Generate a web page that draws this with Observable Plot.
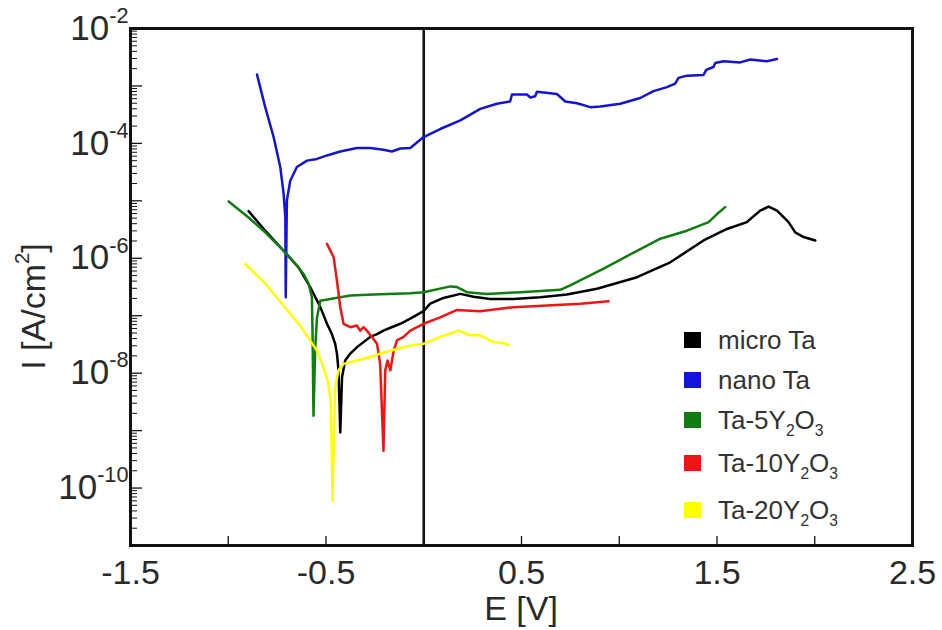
<!DOCTYPE html>
<html><head><meta charset="utf-8">
<script src="https://cdn.jsdelivr.net/npm/d3@7"></script>
<script src="https://cdn.jsdelivr.net/npm/@observablehq/plot@0.6"></script>
<style>body{margin:0;background:#fff}#chart{width:942px;height:630px}</style>
</head><body><div id="chart"></div>
<script>
// ---- data ----
const seriesNames = ["micro Ta", "nano Ta", "Ta-5Y2O3", "Ta-10Y2O3", "Ta-20Y2O3"];
const seriesColors = ["#000000", "#1414d8", "#0f7d0f", "#f01414", "#ffff00"];

const microTaE = [-0.896,-0.811,-0.725,-0.640,-0.581,-0.529,-0.495,-0.470,-0.453,-0.444,-0.436,-0.427,-0.418,-0.402,-0.376,-0.342,-0.308,-0.274,-0.239,-0.206,-0.171,-0.120,-0.069,-0.001,0.033,0.101,0.187,0.255,0.340,0.459,0.596,0.732,0.886,1.091,1.261,1.431,1.551,1.653,1.721,1.764,1.807,1.866,1.900,1.943,2.003];
const microTaI = [6.61e-6,3.02e-6,1.45e-6,6.92e-7,3.16e-7,1.41e-7,7.24e-8,4.79e-8,3.24e-8,2.19e-8,1.12e-8,9.33e-10,8.51e-9,1.66e-8,2.19e-8,2.82e-8,3.47e-8,4.27e-8,4.79e-8,5.50e-8,6.17e-8,7.24e-8,8.91e-8,1.20e-7,1.62e-7,2.04e-7,2.40e-7,2.14e-7,1.95e-7,1.95e-7,2.09e-7,2.34e-7,2.95e-7,4.68e-7,8.51e-7,2.04e-6,3.24e-6,4.27e-6,6.76e-6,7.94e-6,6.76e-6,4.27e-6,2.82e-6,2.34e-6,2.04e-6];

const nanoTaE = [-0.853,-0.811,-0.768,-0.734,-0.717,-0.708,-0.706,-0.700,-0.683,-0.649,-0.597,-0.546,-0.495,-0.427,-0.342,-0.274,-0.206,-0.163,-0.120,-0.069,-0.001,0.084,0.187,0.289,0.374,0.442,0.451,0.528,0.545,0.570,0.579,0.681,0.724,0.784,0.852,0.903,1.005,1.107,1.175,1.244,1.286,1.303,1.346,1.431,1.445,1.482,1.491,1.533,1.619,1.670,1.755,1.807];
const nanoTaI = [1.58e-3,4.27e-4,1.29e-4,3.89e-5,1.35e-5,5.13e-6,2.09e-7,1.02e-5,2.24e-5,3.89e-5,5.01e-5,5.37e-5,6.17e-5,7.24e-5,8.32e-5,8.32e-5,7.76e-5,7.24e-5,8.13e-5,8.32e-5,1.29e-4,1.78e-4,2.51e-4,3.98e-4,4.90e-4,5.37e-4,7.08e-4,7.08e-4,6.31e-4,6.61e-4,7.94e-4,7.24e-4,5.37e-4,5.01e-4,4.27e-4,4.37e-4,4.90e-4,6.17e-4,8.13e-4,9.55e-4,1.10e-3,1.38e-3,1.51e-3,1.55e-3,1.91e-3,2.14e-3,2.51e-3,2.69e-3,2.57e-3,2.88e-3,2.69e-3,2.95e-3];

const ta5E = [-0.998,-0.896,-0.811,-0.725,-0.657,-0.615,-0.589,-0.572,-0.569,-0.567,-0.564,-0.555,-0.546,-0.529,-0.478,-0.376,-0.257,-0.069,-0.001,0.136,0.170,0.221,0.323,0.494,0.698,0.749,0.920,1.091,1.210,1.346,1.457,1.500,1.542];
const ta5I = [9.77e-6,5.13e-6,2.82e-6,1.45e-6,7.94e-7,5.37e-7,3.63e-7,2.09e-7,5.50e-8,1.45e-8,1.82e-9,2.82e-8,9.33e-8,1.82e-7,1.95e-7,2.24e-7,2.34e-7,2.45e-7,2.57e-7,3.24e-7,3.16e-7,2.57e-7,2.40e-7,2.57e-7,2.82e-7,3.39e-7,6.61e-7,1.35e-6,2.19e-6,3.02e-6,4.27e-6,5.89e-6,7.76e-6];

const ta10E = [-0.495,-0.461,-0.444,-0.427,-0.410,-0.376,-0.342,-0.325,-0.308,-0.291,-0.265,-0.239,-0.223,-0.206,-0.197,-0.185,-0.171,-0.154,-0.137,-0.103,-0.069,-0.001,0.084,0.170,0.289,0.459,0.630,0.801,0.945];
const ta10I = [1.78e-6,1.05e-6,4.07e-7,1.41e-7,7.24e-8,6.31e-8,6.76e-8,5.50e-8,6.31e-8,5.50e-8,4.27e-8,3.24e-8,1.45e-8,4.47e-10,1.12e-8,1.66e-8,1.12e-8,2.45e-8,3.72e-8,4.27e-8,5.50e-8,7.24e-8,9.33e-8,1.26e-7,1.20e-7,1.41e-7,1.51e-7,1.62e-7,1.78e-7];

const ta20E = [-0.913,-0.811,-0.725,-0.640,-0.615,-0.546,-0.513,-0.487,-0.475,-0.466,-0.453,-0.436,-0.410,-0.342,-0.274,-0.206,-0.137,-0.069,-0.001,0.084,0.178,0.238,0.289,0.357,0.408,0.434];
const ta20I = [7.94e-7,3.63e-7,1.62e-7,7.24e-8,5.50e-8,2.45e-8,1.26e-8,6.46e-9,2.95e-9,6.03e-11,5.75e-9,1.12e-8,1.45e-8,1.66e-8,1.91e-8,2.29e-8,2.63e-8,3.02e-8,3.24e-8,4.27e-8,5.50e-8,4.57e-8,4.57e-8,3.47e-8,3.31e-8,3.09e-8];

const xTickLabels = [-1.5, -0.5, 0.5, 1.5, 2.5];
const xTickMarks = [-1, -0.5, 0, 0.5, 1, 1.5, 2];
const yTickLabels = [1e-2, 1e-4, 1e-6, 1e-8, 1e-10];
const yMajorTicks = [1e-2, 1e-3, 1e-4, 1e-5, 1e-6, 1e-7, 1e-8, 1e-9, 1e-10, 1e-11];

// ---- build table ----
const seriesE = [microTaE, nanoTaE, ta5E, ta10E, ta20E];
const seriesI = [microTaI, nanoTaI, ta5I, ta10I, ta20I];
const rows = [];
seriesNames.forEach((name, s) => seriesE[s].forEach((e, i) => rows.push({series: name, E: e, I: seriesI[s][i]})));

const W = 942, H = 630, mL = 130, mR = 30, mT = 28, mB = 85;
const plotW = W - mL - mR, plotH = H - mT - mB;
const yMinorTicks = d3.scaleLog().domain([1e-11, 1e-2]).ticks().filter(t => !yMajorTicks.some(m => Math.abs(t / m - 1) < 1e-6));
const font = "'Liberation Sans', Arial, sans-serif";
const textColor = "#2a2a2a";

const chart = Plot.plot({
  width: W, height: H,
  marginLeft: mL, marginRight: mR, marginTop: mT, marginBottom: mB,
  style: {fontFamily: font, background: "#fff", color: textColor},
  x: {domain: [-1.5, 2.5], label: null},
  y: {type: "log", domain: [1e-11, 1e-2], label: null},
  marks: [
    Plot.ruleX([0], {stroke: "#111", strokeWidth: 2.6}),
    ...seriesNames.map((name, s) => Plot.line(rows.filter(r => r.series === name), {x: "E", y: "I", stroke: seriesColors[s], strokeWidth: 2.5, strokeLinejoin: "round"})),
    Plot.ruleX(xTickMarks, {stroke: "#111", strokeWidth: 1.3, insetTop: plotH - 9}),
    Plot.ruleY(yMajorTicks, {stroke: "#111", strokeWidth: 1.3, insetRight: plotW - 12}),
    Plot.ruleY(yMinorTicks, {stroke: "#111", strokeWidth: 1, insetRight: plotW - 7}),
    Plot.frame({stroke: "#111", strokeWidth: 3}),
    Plot.axisX(xTickLabels, {tickSize: 0, tickPadding: 14, fontSize: 34, tickFormat: d => d.toFixed(1), label: null}),
    Plot.axisY(yTickLabels, {tickSize: 0, tickPadding: 2, fontSize: 35, tickFormat: d => String(Math.round(Math.log10(d))), label: null})
  ]
});
document.getElementById("chart").appendChild(chart);

const svg = d3.select(chart);
// superscript y tick labels: 10^n
svg.selectAll('g[aria-label="y-axis tick label"] text').each(function () {
  const exp = this.textContent;
  this.textContent = "";
  const t = d3.select(this);
  t.append("tspan").text("10");
  t.append("tspan").attr("font-size", "0.62em").attr("dy", "-0.78em").text(exp);
});

// axis titles
svg.append("text").attr("x", mL + plotW / 2).attr("y", 620).attr("text-anchor", "middle")
  .attr("font-family", font).attr("font-size", 34).attr("fill", textColor).text("E [V]");
const yl = svg.append("text").attr("transform", `translate(45,${mT + plotH / 2 + 20}) rotate(-90)`).attr("text-anchor", "middle")
  .attr("font-family", font).attr("font-size", 34).attr("fill", textColor);
yl.append("tspan").text("I [A/cm");
yl.append("tspan").attr("font-size", "0.6em").attr("dy", "-0.8em").text("2");
yl.append("tspan").attr("dy", "0.48em").text("]");

// legend
const legendY = [340, 380, 420, 463, 510];
const lg = svg.append("g").attr("font-family", font).attr("font-size", 26).attr("fill", "#333").attr("text-anchor", "start");
seriesNames.forEach((name, i) => {
  lg.append("rect").attr("x", 684).attr("y", legendY[i] - 8).attr("width", 17).attr("height", 16).attr("fill", seriesColors[i]);
  const t = lg.append("text").attr("x", 718).attr("y", legendY[i] + 9).attr("text-anchor", "start");
  const m = name.match(/^(Ta-\d+)Y2O3$/);
  if (m) {
    t.append("tspan").text(m[1] + "Y");
    t.append("tspan").attr("font-size", "0.6em").attr("dy", "0.45em").text("2");
    t.append("tspan").attr("dy", "-0.27em").text("O");
    t.append("tspan").attr("font-size", "0.6em").attr("dy", "0.45em").text("3");
  } else {
    t.text(name);
  }
});
</script>
</body></html>
